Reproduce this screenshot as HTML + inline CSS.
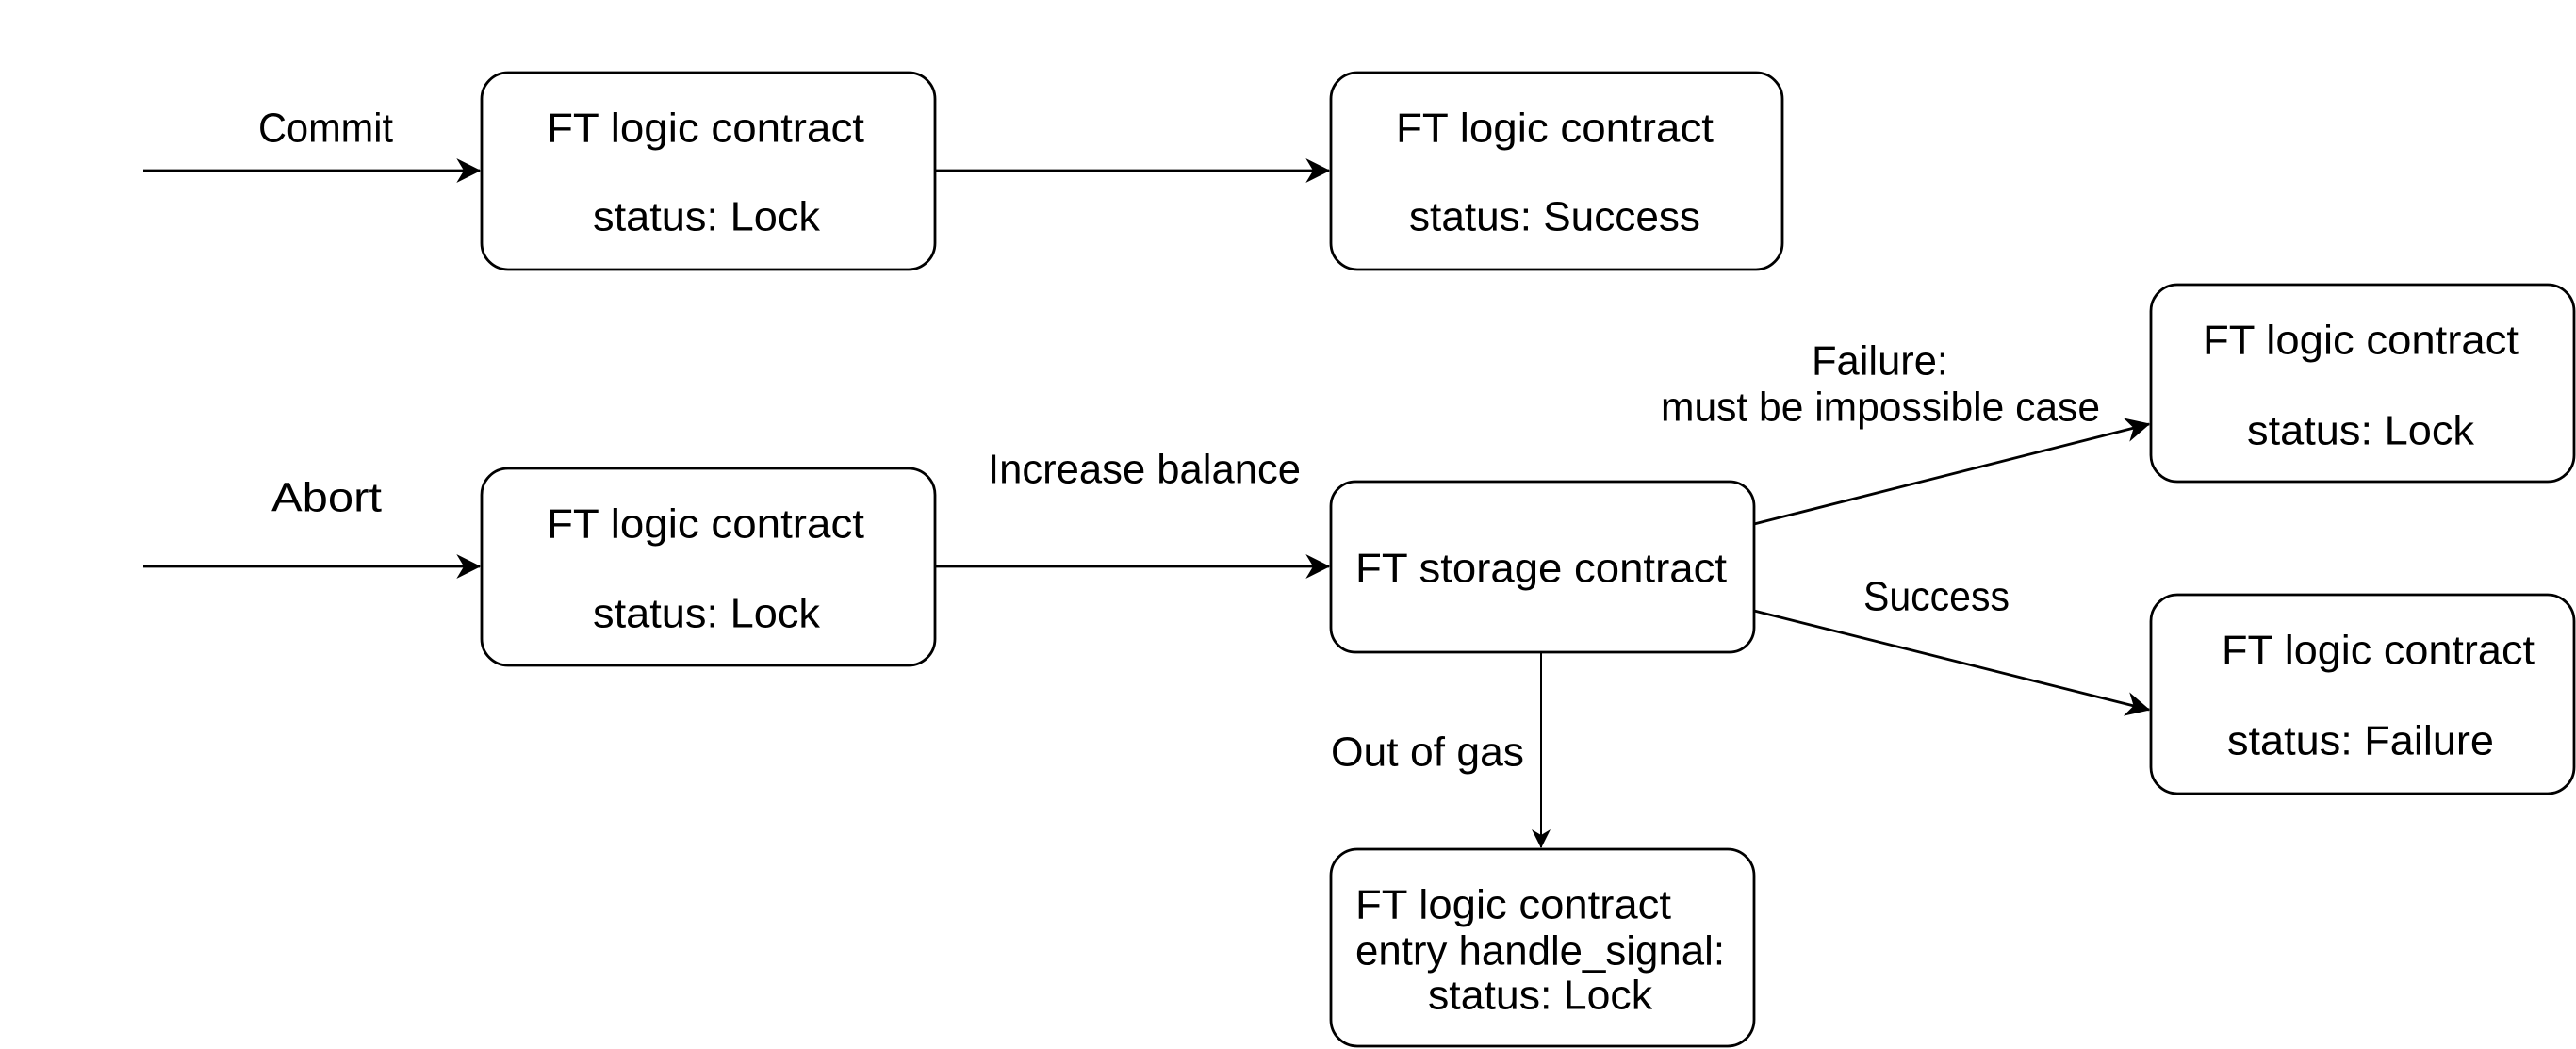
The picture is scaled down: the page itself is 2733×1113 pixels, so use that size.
<!DOCTYPE html>
<html><head><meta charset="utf-8"><style>html,body{margin:0;padding:0;background:#fff}svg{display:block}</style></head>
<body>
<svg width="2733" height="1113" viewBox="0 0 2733 1113" xmlns="http://www.w3.org/2000/svg" font-family="'Liberation Sans', sans-serif" font-size="44" fill="#000">
<defs>
<marker id="a" viewBox="0 0 20 20" refX="19" refY="10" markerWidth="20" markerHeight="20" markerUnits="userSpaceOnUse" orient="auto">
<path d="M0,0 L20,10 L0,20 L6,10 Z" fill="#000"/>
</marker>
<marker id="b" viewBox="0 0 20 20" refX="19" refY="10" markerWidth="26" markerHeight="26" markerUnits="userSpaceOnUse" orient="auto">
<path d="M0,0 L20,10 L0,20 L6,10 Z" fill="#000"/>
</marker>
</defs>
<g fill="none" stroke="#000" stroke-width="2.8">
<rect x="511" y="77" width="481" height="209" rx="28"/>
<rect x="1412" y="77" width="479" height="209" rx="28"/>
<rect x="511" y="497" width="481" height="209" rx="28"/>
<rect x="1412" y="511" width="449" height="181" rx="26"/>
<rect x="2282" y="302" width="449" height="209" rx="28"/>
<rect x="2282" y="631" width="449" height="211" rx="28"/>
<rect x="1412" y="901" width="449" height="209" rx="28"/>
</g>
<g stroke="#000" stroke-width="2.8" fill="none">
<line x1="152" y1="181" x2="509" y2="181" marker-end="url(#b)"/>
<line x1="992" y1="181" x2="1410" y2="181" marker-end="url(#b)"/>
<line x1="152" y1="601" x2="509" y2="601" marker-end="url(#b)"/>
<line x1="992" y1="601" x2="1410" y2="601" marker-end="url(#b)"/>
<line x1="1861" y1="556" x2="2280" y2="450" marker-end="url(#b)"/>
<line x1="1861" y1="648" x2="2280" y2="753" marker-end="url(#b)"/>
<line x1="1635" y1="692" x2="1635" y2="899" stroke-width="2" marker-end="url(#a)"/>
</g>
<g dominant-baseline="central">
<text x="274" y="136" textLength="143" lengthAdjust="spacingAndGlyphs">Commit</text>
<text x="580" y="136" textLength="337" lengthAdjust="spacingAndGlyphs">FT logic contract</text>
<text x="629" y="230" textLength="241" lengthAdjust="spacingAndGlyphs">status: Lock</text>
<text x="1481" y="136" textLength="337" lengthAdjust="spacingAndGlyphs">FT logic contract</text>
<text x="1495" y="230" textLength="309" lengthAdjust="spacingAndGlyphs">status: Success</text>
<text x="288" y="528" textLength="117" lengthAdjust="spacingAndGlyphs">Abort</text>
<text x="580" y="556" textLength="337" lengthAdjust="spacingAndGlyphs">FT logic contract</text>
<text x="629" y="651" textLength="241" lengthAdjust="spacingAndGlyphs">status: Lock</text>
<text x="1048" y="498" textLength="332" lengthAdjust="spacingAndGlyphs">Increase balance</text>
<text x="1438" y="603" textLength="394" lengthAdjust="spacingAndGlyphs">FT storage contract</text>
<text x="1922" y="383" textLength="145" lengthAdjust="spacingAndGlyphs">Failure:</text>
<text x="1762" y="432" textLength="466" lengthAdjust="spacingAndGlyphs">must be impossible case</text>
<text x="1977" y="633" textLength="155" lengthAdjust="spacingAndGlyphs">Success</text>
<text x="1412" y="798" textLength="205" lengthAdjust="spacingAndGlyphs">Out of gas</text>
<text x="2337" y="361" textLength="335" lengthAdjust="spacingAndGlyphs">FT logic contract</text>
<text x="2384" y="457" textLength="241" lengthAdjust="spacingAndGlyphs">status: Lock</text>
<text x="2357" y="690" textLength="332" lengthAdjust="spacingAndGlyphs">FT logic contract</text>
<text x="2363" y="786" textLength="283" lengthAdjust="spacingAndGlyphs">status: Failure</text>
<text x="1438" y="960" textLength="335" lengthAdjust="spacingAndGlyphs">FT logic contract</text>
<text x="1438" y="1009" textLength="392" lengthAdjust="spacingAndGlyphs">entry handle_signal:</text>
<text x="1515" y="1056" textLength="238" lengthAdjust="spacingAndGlyphs">status: Lock</text>
</g>
</svg>
</body></html>
